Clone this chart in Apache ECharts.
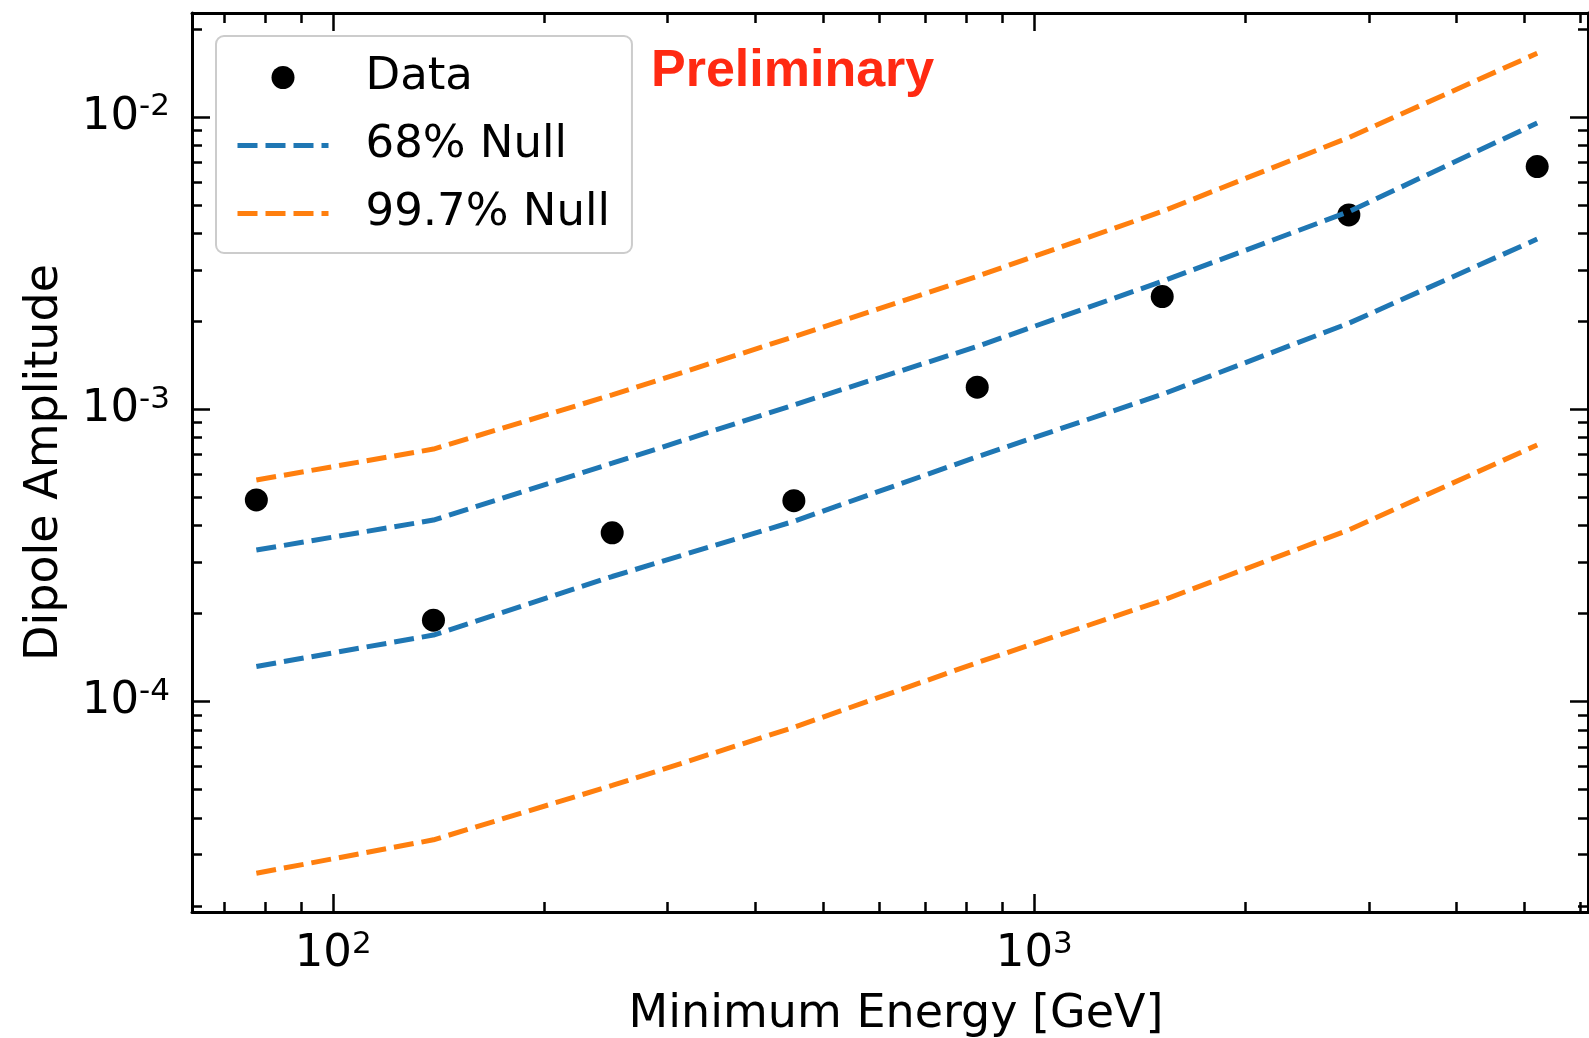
<!DOCTYPE html>
<html>
<head>
<meta charset="utf-8">
<title>Dipole Amplitude</title>
<script src="https://cdn.jsdelivr.net/npm/echarts@6/dist/echarts.min.js"></script>
<style>
html, body { margin: 0; padding: 0; background: #fff; }
#chart { width: 1589px; height: 1038px; }
</style>
</head>
<body>
<div id="chart"></div>
<script>
// minimum energy of each bin [GeV]
var energy = [77.7, 139, 250, 454, 829, 1522, 2809, 5214];
// measured dipole amplitude
var dataAmp = [4.90e-4, 1.90e-4, 3.78e-4, 4.87e-4, 1.19e-3, 2.43e-3, 4.62e-3, 6.76e-3];
// null hypothesis bands
var null68Upper = [3.30e-4, 4.18e-4, 6.54e-4, 1.035e-3, 1.64e-3, 2.74e-3, 4.74e-3, 9.53e-3];
var null68Lower = [1.32e-4, 1.69e-4, 2.68e-4, 4.14e-4, 6.88e-4, 1.125e-3, 1.97e-3, 3.82e-3];
var null997Upper = [5.73e-4, 7.31e-4, 1.12e-3, 1.77e-3, 2.85e-3, 4.75e-3, 8.50e-3, 1.65e-2];
var null997Lower = [2.59e-5, 3.37e-5, 5.17e-5, 8.17e-5, 1.36e-4, 2.22e-4, 3.87e-4, 7.55e-4];

var xMajorTicks = [100, 1000];
var xMinorTicks = [70, 80, 90, 200, 300, 400, 500, 600, 700, 800, 900, 2000, 3000, 4000, 5000, 6000];
var yMajorTicks = [1e-4, 1e-3, 1e-2];
var yMinorTicks = [2e-5, 3e-5, 4e-5, 5e-5, 6e-5, 7e-5, 8e-5, 9e-5,
  2e-4, 3e-4, 4e-4, 5e-4, 6e-4, 7e-4, 8e-4, 9e-4,
  2e-3, 3e-3, 4e-3, 5e-3, 6e-3, 7e-3, 8e-3, 9e-3, 2e-2];

var xMin = 62.9, xMax = 6161;
var yMin = 1.909e-5, yMax = 2.266e-2;

var FONT = 'DejaVu Sans';
var BLUE = '#1f77b4';
var ORANGE = '#ff7f0e';
var DASH = [20, 8];

function pairs(ys) {
  return energy.map(function (e, i) { return [e, ys[i]]; });
}

function powLabel(v) {
  var exp = Math.round(Math.log10(v));
  return '{b|10}{s|' + exp + '}';
}

var richLabel = {
  b: { fontFamily: FONT, fontSize: 45, lineHeight: 50, color: '#000', verticalAlign: 'middle' },
  s: { fontFamily: FONT, fontSize: 31, lineHeight: 27, color: '#000', verticalAlign: 'top' }
};

// one log axis: either the major one (line, long ticks, maybe labels) or a minor overlay
function axis(dim, pos, ticks, major, labels) {
  var a = {
    type: 'log',
    logBase: 10,
    position: pos,
    min: dim === 'x' ? xMin : yMin,
    max: dim === 'x' ? xMax : yMax,
    splitLine: { show: false },
    axisLine: { show: major, onZero: false, lineStyle: { color: '#000', width: 3 } },
    axisTick: {
      show: true,
      inside: true,
      length: major ? 18 : 10,
      customValues: ticks,
      lineStyle: { color: '#000', width: 2.5 }
    },
    axisLabel: { show: false }
  };
  if (labels) {
    a.axisLabel = {
      show: true,
      customValues: ticks,
      margin: dim === 'x' ? 17 : 22,
      formatter: powLabel,
      rich: richLabel
    };
  }
  return a;
}

var xAxes = [
  axis('x', 'bottom', xMajorTicks, true, true),
  axis('x', 'bottom', xMinorTicks, false, false),
  axis('x', 'top', xMajorTicks, true, false),
  axis('x', 'top', xMinorTicks, false, false)
];
xAxes[0].name = 'Minimum Energy [GeV]';
xAxes[0].nameLocation = 'middle';
xAxes[0].nameGap = 80;
xAxes[0].nameTextStyle = { fontFamily: FONT, fontSize: 46, color: '#000', padding: [0, 0, 0, 12] };

var yAxes = [
  axis('y', 'left', yMajorTicks, true, true),
  axis('y', 'left', yMinorTicks, false, false),
  axis('y', 'right', yMajorTicks, true, false),
  axis('y', 'right', yMinorTicks, false, false)
];
yAxes[0].name = 'Dipole Amplitude';
yAxes[0].nameLocation = 'middle';
yAxes[0].nameGap = 124;
yAxes[0].nameTextStyle = { fontFamily: FONT, fontSize: 46, color: '#000' };

function nullLine(name, color, ys) {
  return {
    name: name,
    type: 'line',
    data: pairs(ys),
    symbol: 'none',
    silent: true,
    z: 3,
    lineStyle: { color: color, width: 5, type: DASH, cap: 'butt' },
    itemStyle: { color: color }
  };
}

var chart = echarts.init(document.getElementById('chart'));
chart.setOption({
  animation: false,
  backgroundColor: '#fff',
  title: {
    text: 'Preliminary',
    left: 651,
    top: 46,
    padding: 0,
    textStyle: { fontFamily: 'Liberation Sans', fontWeight: 'bold', fontSize: 52, color: '#ff2a12' }
  },
  grid: { left: 192, top: 13, right: 1, bottom: 126, outerBoundsMode: 'none', containLabel: false },
  xAxis: xAxes,
  yAxis: yAxes,
  legend: {
    orient: 'vertical',
    left: 216,
    top: 36,
    padding: [19, 22, 17, 19],
    itemWidth: 91,
    itemHeight: 23,
    itemGap: 23,
    backgroundColor: 'rgba(255,255,255,0.8)',
    borderColor: '#cccccc',
    borderWidth: 2,
    borderRadius: 8,
    lineStyle: { width: 5, type: DASH, cap: 'butt' },
    textStyle: { fontFamily: FONT, fontSize: 45, lineHeight: 45, color: '#000', padding: [0, 0, 0, 32] },
    data: [
      { name: 'Data' },
      { name: '68% Null', itemStyle: { opacity: 0 } },
      { name: '99.7% Null', itemStyle: { opacity: 0 } }
    ]
  },
  series: [
    {
      name: 'Data',
      type: 'scatter',
      data: pairs(dataAmp),
      symbol: 'circle',
      symbolSize: 23,
      z: 2,
      itemStyle: { color: '#000', opacity: 1 }
    },
    nullLine('68% Null', BLUE, null68Upper),
    nullLine('68% Null', BLUE, null68Lower),
    nullLine('99.7% Null', ORANGE, null997Upper),
    nullLine('99.7% Null', ORANGE, null997Lower)
  ]
});
</script>
</body>
</html>
